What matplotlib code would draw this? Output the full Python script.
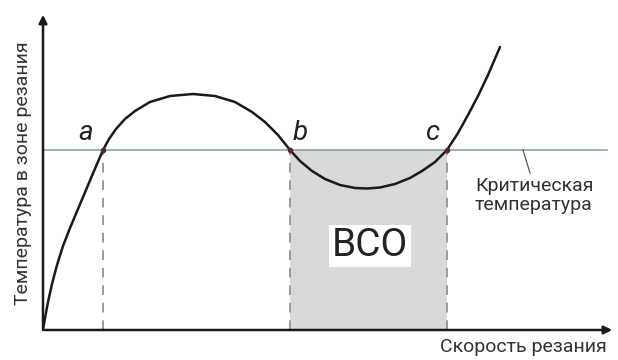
import numpy as np
import matplotlib.pyplot as plt

# curve (origin at the axes corner)
speed = [0, 2, 5, 9, 14, 20, 27, 35, 43, 51, 60, 66, 73, 82, 92, 107, 127, 150, 172, 192,
         209, 222, 235, 247, 257, 269, 282, 297, 312, 324, 337, 352, 367, 379, 392,
         404, 415, 425, 435, 445, 457]
temp = [0, 12, 28, 46, 65, 84, 102, 121, 140, 159, 180, 191, 201, 211, 219, 228, 234, 236, 234, 228,
        218, 208, 195, 180, 169, 159, 151, 145, 142, 141.5, 142.5, 146, 152, 159, 168,
        180, 197, 215, 234, 255, 283]

t_crit = 180
points = ['a', 'b', 'c']
points_x = [60, 247, 404]
label_x = [43, 257, 389]

fam = ['Roboto', 'DejaVu Sans']

fig = plt.figure(figsize=(6.18, 3.6), dpi=100)
ax = fig.add_axes([0, 0, 1, 1])
ax.set_xlim(-43, 575)
ax.set_ylim(-30, 330)
ax.axis('off')

# shaded zone between b and c
ax.fill_between([points_x[1], points_x[2]], 0, t_crit, color='#d9d9d9', lw=0, zorder=1)

# critical temperature line
ax.plot([0, 564], [t_crit, t_crit], color='#7d9cab', lw=1.1, zorder=2)
ax.plot([480, 487], [t_crit, 157], color='#555555', lw=0.9, zorder=2)

# dashed drops
for px in points_x:
    ax.plot([px, px], [0, t_crit], color='#9a9a9a', lw=1.4, ls=(0, (5, 4)), zorder=2)

# curve
ax.plot(speed, temp, color='#1a1a1a', lw=1.8, zorder=4, solid_capstyle='round',
        solid_joinstyle='round')
ax.plot(points_x, [t_crit] * 3, 'o', color='#5a2a2a', ms=3, zorder=5)

# axes with arrows
ax.annotate('', xy=(0, 318), xytext=(0, -1),
            arrowprops=dict(arrowstyle='-|>', color='#1a1a1a', lw=1.8, mutation_scale=12))
ax.annotate('', xy=(572, 0), xytext=(-1, 0),
            arrowprops=dict(arrowstyle='-|>', color='#1a1a1a', lw=1.8, mutation_scale=12))

# point labels
for name, lx in zip(points, label_x):
    ax.text(lx, 190, name, fontsize=20, style='italic', family=fam,
            color='#222222', ha='center', va='baseline')

ax.text(327, 84, 'ВСО', fontsize=28, family=fam, color='#222222', ha='center', va='center',
        bbox=dict(facecolor='white', edgecolor='none', pad=2), zorder=6)

ax.text(432, 153, 'Критическая\nтемпература', fontsize=14, family=fam, color='#333333',
        ha='left', va='top', linespacing=1.05)

ax.text(-20, 157, 'Температура в зоне резания', fontsize=14, family=fam, color='#333333',
        rotation=90, ha='center', va='center')
ax.text(564, -8, 'Скорость резания', fontsize=14, family=fam, color='#333333',
        ha='right', va='top')

fig.savefig('out.png', dpi=100)
